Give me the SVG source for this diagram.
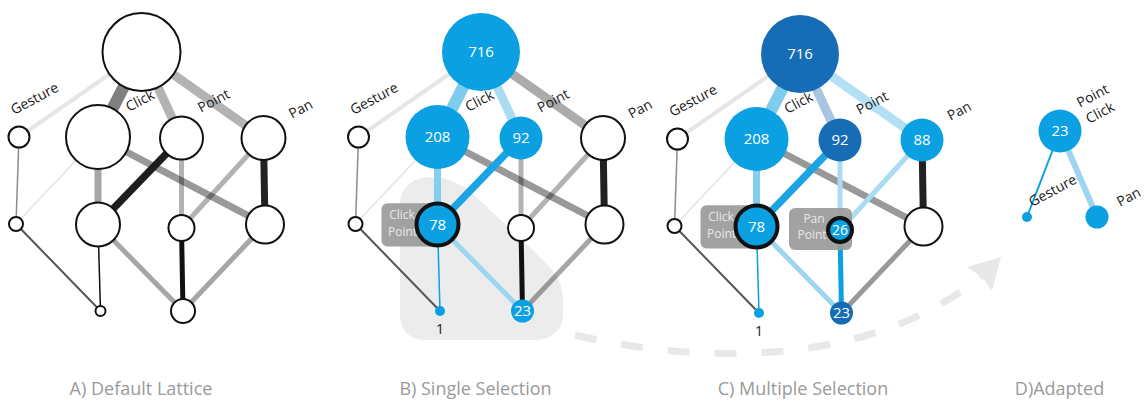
<svg xmlns="http://www.w3.org/2000/svg" width="1148" height="401" viewBox="0 0 1148 401">
<style>
text{font-family:"Open Sans","Noto Sans","Liberation Sans",sans-serif}
.lbl{font-size:14px;fill:#1a1a1a}
.num{font-size:15px;fill:#fff;text-anchor:middle}
.cap{font-size:18px;fill:#9a9a9a;text-anchor:middle}
.tag{font-size:12px;fill:#e8e8e8;text-anchor:middle}
.e{fill:none;stroke-linecap:butt}
.w{fill:#fff;stroke:#111;stroke-width:2}
.b{fill:#0aa0e2}
.d{fill:#176db5}
.sel{stroke:#111;stroke-width:4}
.rect{fill:#9a9a9a;fill-opacity:0.92}
</style>
<rect width="1148" height="401" fill="#fff"/>
<!-- background blob and dashed arrow -->
<path id="blob" d="M430,177 C455,177 470,190 490,210 L545,262 C558,275 563,285 563,300 L563,315 C563,330 550,340 535,340 L425,340 C410,340 400,330 400,315 L400,205 C400,188 413,177 430,177 Z" fill="#ececec"/>
<g id="arrow">
<path d="M575,335 C680,360 860,375 982,276" fill="none" stroke="#e8e8e8" stroke-width="7" stroke-dasharray="22 25"/>
<polygon points="967,267 1001,257 992,291 983,278" fill="#e8e8e8"/>
</g>

<!-- ============ PANEL A ============ -->
<g id="panelA">
<g id="connectorsA" class="e">
<line x1="141.5" y1="52" x2="19" y2="137" stroke="#e6e6e6" stroke-width="4"/>
<line x1="141.5" y1="52" x2="98" y2="137" stroke="#7f7f7f" stroke-width="12"/>
<line x1="141.5" y1="52" x2="181.5" y2="138" stroke="#b3b3b3" stroke-width="9"/>
<line x1="141.5" y1="52" x2="263.5" y2="138" stroke="#b3b3b3" stroke-width="9"/>
<line x1="19" y1="137" x2="16" y2="224" stroke="#8c8c8c" stroke-width="1.5"/>
<line x1="98" y1="137" x2="16" y2="224" stroke="#e3e3e3" stroke-width="1.5"/>
<line x1="98" y1="137" x2="98" y2="224.5" stroke="#a6a6a6" stroke-width="7"/>
<line x1="98" y1="137" x2="265" y2="224.5" stroke="#000" stroke-opacity="0.4" stroke-width="7"/>
<line x1="181.5" y1="138" x2="98" y2="224.5" stroke="#1e1e1e" stroke-width="7.5"/>
<line x1="181.5" y1="138" x2="181.5" y2="228" stroke="#000" stroke-opacity="0.3" stroke-width="5"/>
<line x1="263.5" y1="138" x2="181.5" y2="228" stroke="#000" stroke-opacity="0.3" stroke-width="5"/>
<line x1="263.5" y1="138" x2="265" y2="224.5" stroke="#222" stroke-width="7"/>
<line x1="16" y1="224" x2="100.5" y2="311" stroke="#555" stroke-width="2"/>
<line x1="98" y1="224.5" x2="100.5" y2="311" stroke="#111" stroke-width="1.5"/>
<line x1="98" y1="224.5" x2="183" y2="311" stroke="#000" stroke-opacity="0.35" stroke-width="5"/>
<line x1="181.5" y1="228" x2="183" y2="311" stroke="#111" stroke-width="5"/>
<line x1="265" y1="224.5" x2="183" y2="311" stroke="#000" stroke-opacity="0.35" stroke-width="5"/>
</g>
<g id="A-top"><circle class="w" cx="141.5" cy="52" r="39"/></g>
<g id="A-gesture"><circle class="w" cx="19" cy="137" r="10.5"/></g>
<g id="A-click"><circle class="w" cx="98" cy="137" r="32"/></g>
<g id="A-point"><circle class="w" cx="181.5" cy="138" r="21.5"/></g>
<g id="A-pan"><circle class="w" cx="263.5" cy="138" r="22"/></g>
<g id="A-gesture2"><circle class="w" cx="16" cy="224" r="7"/></g>
<g id="A-clickpoint"><circle class="w" cx="98" cy="224.5" r="22"/></g>
<g id="A-pointpan"><circle class="w" cx="181.5" cy="228" r="13"/></g>
<g id="A-clickpan"><circle class="w" cx="265" cy="224.5" r="19"/></g>
<g id="A-bottom1"><circle class="w" cx="100.5" cy="311" r="5"/></g>
<g id="A-bottom2"><circle class="w" cx="183" cy="311" r="12"/></g>
<g id="A-labels">
<text class="lbl" transform="translate(14,115) rotate(-28)">Gesture</text>
<text class="lbl" transform="translate(129,112) rotate(-28)">Click</text>
<text class="lbl" transform="translate(201,113) rotate(-28)">Point</text>
<text class="lbl" transform="translate(292,119) rotate(-28)">Pan</text>
</g>
<text class="cap" x="141" y="395">A) Default Lattice</text>
</g>

<!-- ============ PANEL B ============ -->
<g id="panelB">
<g transform="translate(339.5,0)">
<g id="connectorsB" class="e">
<line x1="141.5" y1="52" x2="19" y2="137" stroke="#e6e6e6" stroke-width="4"/>
<line x1="141.5" y1="52" x2="98" y2="137" stroke="#7fcdee" stroke-width="12"/>
<line x1="141.5" y1="52" x2="181.5" y2="138" stroke="#a9dcf3" stroke-width="9"/>
<line x1="141.5" y1="52" x2="263.5" y2="138" stroke="#000" stroke-opacity="0.33" stroke-width="9"/>
<line x1="19" y1="137" x2="16" y2="224" stroke="#8c8c8c" stroke-width="1.5"/>
<line x1="98" y1="137" x2="16" y2="224" stroke="#e3e3e3" stroke-width="1.5"/>
<line x1="98" y1="137" x2="98" y2="224.5" stroke="#86ceef" stroke-width="7"/>
<line x1="98" y1="137" x2="265" y2="224.5" stroke="#000" stroke-opacity="0.4" stroke-width="7"/>
<line x1="181.5" y1="138" x2="98" y2="224.5" stroke="#1ba3e3" stroke-width="7.5"/>
<line x1="181.5" y1="138" x2="181.5" y2="228" stroke="#000" stroke-opacity="0.3" stroke-width="5"/>
<line x1="263.5" y1="138" x2="181.5" y2="228" stroke="#000" stroke-opacity="0.3" stroke-width="5"/>
<line x1="263.5" y1="138" x2="265" y2="224.5" stroke="#222" stroke-width="7"/>
<line x1="16" y1="224" x2="100.5" y2="311" stroke="#555" stroke-width="2"/>
<line x1="98" y1="224.5" x2="100.5" y2="311" stroke="#0aa0e2" stroke-width="1.5"/>
<line x1="98" y1="224.5" x2="183" y2="311" stroke="#9dd5f1" stroke-width="5"/>
<line x1="181.5" y1="228" x2="183" y2="311" stroke="#111" stroke-width="5"/>
<line x1="265" y1="224.5" x2="183" y2="311" stroke="#000" stroke-opacity="0.35" stroke-width="5"/>
</g>
<g id="B-top"><circle class="b" cx="141.5" cy="52" r="39"/><text class="num" x="141.5" y="57">716</text></g>
<g id="B-gesture"><circle class="w" cx="19" cy="137" r="10.5"/></g>
<g id="B-click"><circle class="b" cx="98" cy="137" r="32"/><text class="num" x="98" y="142">208</text></g>
<g id="B-point"><circle class="b" cx="181.5" cy="138" r="21.5"/><text class="num" x="181.5" y="143">92</text></g>
<g id="B-pan"><circle class="w" cx="263.5" cy="138" r="22"/></g>
<g id="B-gesture2"><circle class="w" cx="16" cy="224" r="7"/></g>
<g id="B-clickpoint">
<rect class="rect" x="42" y="203.3" width="56" height="43.3" rx="6"/>
<text class="tag" x="62.5" y="219">Click</text>
<text class="tag" x="63" y="235.5">Point</text>
<circle class="b sel" cx="98" cy="224.5" r="21"/><text class="num" x="98" y="229.5">78</text></g>
<g id="B-pointpan"><circle class="w" cx="181.5" cy="228" r="13"/></g>
<g id="B-clickpan"><circle class="w" cx="265" cy="224.5" r="19"/></g>
<g id="B-bottom1"><circle class="b" cx="100.5" cy="311" r="5"/><text class="lbl" x="100.5" y="333.5" text-anchor="middle">1</text></g>
<g id="B-bottom2"><circle class="b" cx="183" cy="311" r="11.5"/><text class="num" x="183" y="316">23</text></g>
<g id="B-labels">
<text class="lbl" transform="translate(14,115) rotate(-28)">Gesture</text>
<text class="lbl" transform="translate(129,112) rotate(-28)">Click</text>
<text class="lbl" transform="translate(201,113) rotate(-28)">Point</text>
<text class="lbl" transform="translate(292,119) rotate(-28)">Pan</text>
</g>
</g>
<text class="cap" x="475.5" y="395">B) Single Selection</text>
</g>

<!-- ============ PANEL C ============ -->
<g id="panelC">
<g transform="translate(658.5,2)">
<g id="connectorsC" class="e">
<line x1="141.5" y1="52" x2="19" y2="137" stroke="#e6e6e6" stroke-width="4"/>
<line x1="141.5" y1="52" x2="98" y2="137" stroke="#7fcdee" stroke-width="12"/>
<line x1="141.5" y1="52" x2="181.5" y2="138" stroke="#a8c6e3" stroke-width="9"/>
<line x1="141.5" y1="52" x2="263.5" y2="138" stroke="#b3e0f5" stroke-width="9"/>
<line x1="19" y1="137" x2="16" y2="224" stroke="#8c8c8c" stroke-width="1.5"/>
<line x1="98" y1="137" x2="16" y2="224" stroke="#e3e3e3" stroke-width="1.5"/>
<line x1="98" y1="137" x2="98" y2="224.5" stroke="#86ceef" stroke-width="7"/>
<line x1="98" y1="137" x2="265" y2="224.5" stroke="#000" stroke-opacity="0.4" stroke-width="7"/>
<line x1="181.5" y1="138" x2="98" y2="224.5" stroke="#1ba3e3" stroke-width="7.5"/>
<line x1="181.5" y1="138" x2="181.5" y2="228" stroke="#a9dcf3" stroke-width="5"/>
<line x1="263.5" y1="138" x2="181.5" y2="228" stroke="#a9dcf3" stroke-width="5"/>
<line x1="263.5" y1="138" x2="265" y2="224.5" stroke="#222" stroke-width="7"/>
<line x1="16" y1="224" x2="100.5" y2="311" stroke="#555" stroke-width="2"/>
<line x1="98" y1="224.5" x2="100.5" y2="311" stroke="#0aa0e2" stroke-width="1.5"/>
<line x1="98" y1="224.5" x2="183" y2="311" stroke="#9dd5f1" stroke-width="5"/>
<line x1="181.5" y1="228" x2="183" y2="311" stroke="#0aa0e2" stroke-width="5"/>
<line x1="265" y1="224.5" x2="183" y2="311" stroke="#000" stroke-opacity="0.4" stroke-width="5"/>
</g>
<g id="C-top"><circle class="d" cx="141.5" cy="52" r="39"/><text class="num" x="141.5" y="57">716</text></g>
<g id="C-gesture"><circle class="w" cx="19" cy="137" r="10.5"/></g>
<g id="C-click"><circle class="b" cx="98" cy="137" r="32"/><text class="num" x="98" y="142">208</text></g>
<g id="C-point"><circle class="d" cx="181.5" cy="138" r="21.5"/><text class="num" x="181.5" y="143">92</text></g>
<g id="C-pan"><circle class="b" cx="263.5" cy="138" r="21.5"/><text class="num" x="263.5" y="143">88</text></g>
<g id="C-gesture2"><circle class="w" cx="16" cy="224" r="7"/></g>
<g id="C-clickpoint">
<rect class="rect" x="42" y="203.3" width="56" height="43.3" rx="6"/>
<text class="tag" x="62.5" y="219">Click</text>
<text class="tag" x="63" y="235.5">Point</text>
<circle class="b sel" cx="98" cy="224.5" r="21"/><text class="num" x="98" y="229.5">78</text></g>
<g id="C-pointpan">
<rect class="rect" x="130.5" y="206" width="63" height="42" rx="6"/>
<text class="tag" x="155.5" y="220.5">Pan</text>
<text class="tag" x="153.5" y="237">Point</text>
<circle class="b sel" cx="181.5" cy="228" r="12"/><text class="num" x="181.5" y="233" style="font-size:14px">26</text></g>
<g id="C-clickpan"><circle class="w" cx="265" cy="224.5" r="19"/></g>
<g id="C-bottom1"><circle class="b" cx="100.5" cy="311" r="5"/><text class="lbl" x="100.5" y="333.5" text-anchor="middle">1</text></g>
<g id="C-bottom2"><circle class="d" cx="183" cy="311" r="11.5"/><text class="num" x="183" y="316">23</text></g>
<g id="C-labels">
<text class="lbl" transform="translate(14,115) rotate(-28)">Gesture</text>
<text class="lbl" transform="translate(129,112) rotate(-28)">Click</text>
<text class="lbl" transform="translate(201,113) rotate(-28)">Point</text>
<text class="lbl" transform="translate(292,119) rotate(-28)">Pan</text>
</g>
</g>
<text class="cap" x="803" y="395">C) Multiple Selection</text>
</g>

<!-- ============ PANEL D ============ -->
<g id="panelD">
<g id="connectorsD" class="e">
<line x1="1060" y1="131" x2="1027" y2="217" stroke="#0aa0e2" stroke-width="2"/>
<line x1="1060" y1="131" x2="1097" y2="217" stroke="#9dd5f1" stroke-width="6"/>
</g>
<g id="D-node23"><circle class="b" cx="1060" cy="131" r="21.5"/><text class="num" x="1060" y="136">23</text></g>
<g id="D-gesture"><circle class="b" cx="1027" cy="217" r="5"/></g>
<g id="D-pan"><circle class="b" cx="1097" cy="217" r="11.5"/></g>
<g id="D-labels">
<text class="lbl" transform="translate(1080,108) rotate(-28)">Point</text>
<text class="lbl" transform="translate(1089,124) rotate(-28)">Click</text>
<text class="lbl" transform="translate(1032,207) rotate(-28)">Gesture</text>
<text class="lbl" transform="translate(1120,207) rotate(-28)">Pan</text>
</g>
<text class="cap" x="1059.5" y="395">D)Adapted</text>
</g>
</svg>
